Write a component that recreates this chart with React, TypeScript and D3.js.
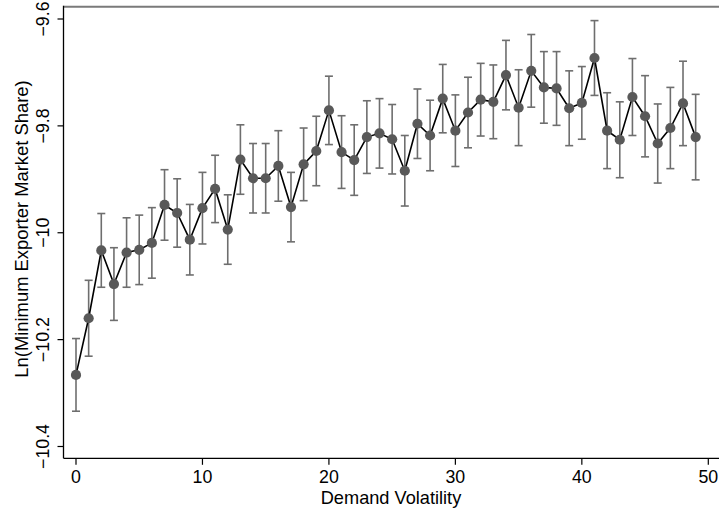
import React from "react";
import * as d3 from "d3";

const volatility: number[] = Array.from({ length: 50 }, (_, i) => i);
const meanValues: number[] = [
  -10.266, -10.16, -10.033, -10.096, -10.037, -10.032, -10.019, -9.948, -9.963, -10.013,
  -9.954, -9.918, -9.994, -9.863, -9.898, -9.898, -9.875, -9.952, -9.872, -9.847,
  -9.771, -9.849, -9.864, -9.821, -9.814, -9.825, -9.884, -9.796, -9.818, -9.749,
  -9.809, -9.775, -9.751, -9.755, -9.705, -9.766, -9.697, -9.728, -9.73, -9.767,
  -9.757, -9.673, -9.809, -9.826, -9.746, -9.782, -9.833, -9.804, -9.758, -9.821,
];
const ciHalf: number[] = [
  0.068, 0.071, 0.069, 0.068, 0.065, 0.065, 0.066, 0.066, 0.064, 0.066,
  0.067, 0.063, 0.065, 0.065, 0.065, 0.065, 0.066, 0.065, 0.068, 0.065,
  0.064, 0.068, 0.066, 0.068, 0.065, 0.065, 0.066, 0.065, 0.066, 0.064,
  0.067, 0.066, 0.068, 0.069, 0.065, 0.071, 0.068, 0.067, 0.069, 0.07,
  0.068, 0.07, 0.071, 0.071, 0.072, 0.076, 0.074, 0.076, 0.079, 0.08,
];
const xTicks: number[] = [0, 10, 20, 30, 40, 50];
const yTicks: number[] = [-9.6, -9.8, -10, -10.2, -10.4];
const xTitle = "Demand Volatility";
const yTitle = "Ln(Minimum Exporter Market Share)";

const W = 719;
const H = 510;
const FONT = "'Liberation Sans', Arial, Helvetica, sans-serif";

export default function App() {
  const x = d3.scaleLinear().domain([0, 50]).range([76, 708.3]);
  const y = d3.scaleLinear().domain([-10.4, -9.6]).range([446.5, 19]);
  const axisLeft = 63.5;
  const axisBottom = 458.3;
  const plotTop = 6.8;

  const data = volatility.map((v, i) => ({ v, m: meanValues[i], h: ciHalf[i] }));
  const line = d3
    .line<{ v: number; m: number }>()
    .x((d) => x(d.v))
    .y((d) => y(d.m));

  const fmtY = (t: number) => {
    const s = t === -10 ? "10" : Math.abs(t).toString();
    return "\u2212" + s;
  };

  return (
    <svg
      width={W}
      height={H}
      style={{ position: "absolute", left: 0, top: 0, background: "#fff" }}
      fontFamily={FONT}
    >
      <rect x={0} y={0} width={W} height={H} fill="#fff" />
      {/* top border */}
      <line x1={axisLeft} x2={W} y1={plotTop} y2={plotTop} stroke="#7a7a7a" strokeWidth={2} />
      {/* axes */}
      <line x1={axisLeft} x2={axisLeft} y1={plotTop - 1} y2={axisBottom} stroke="#000" strokeWidth={1.3} />
      <line x1={axisLeft} x2={W} y1={axisBottom} y2={axisBottom} stroke="#000" strokeWidth={1.3} />

      {/* y ticks */}
      {yTicks.map((t) => (
        <g key={"y" + t}>
          <line x1={axisLeft - 6} x2={axisLeft} y1={y(t)} y2={y(t)} stroke="#000" strokeWidth={1.2} />
          <text
            transform={`translate(49,${y(t)}) rotate(-90)`}
            textAnchor="middle"
            fontSize={17.8}
            fill="#000"
          >
            {fmtY(t)}
          </text>
        </g>
      ))}

      {/* x ticks */}
      {xTicks.map((t) => (
        <g key={"x" + t}>
          <line x1={x(t)} x2={x(t)} y1={axisBottom} y2={axisBottom + 6.5} stroke="#000" strokeWidth={1.2} />
          <text x={x(t)} y={483} textAnchor="middle" fontSize={17.8} fill="#000">
            {t}
          </text>
        </g>
      ))}

      {/* titles */}
      <text x={391} y={504} textAnchor="middle" fontSize={18.2} fill="#000">
        {xTitle}
      </text>
      <text
        transform={`translate(28,229) rotate(-90)`}
        textAnchor="middle"
        fontSize={18.4}
        fill="#000"
      >
        {yTitle}
      </text>

      {/* error bars */}
      {data.map((d) => {
        const cx = x(d.v);
        const y1 = y(d.m + d.h);
        const y2 = y(d.m - d.h);
        return (
          <g key={"e" + d.v} stroke="#6e6e6e" strokeWidth={1.6}>
            <line x1={cx} x2={cx} y1={y1} y2={y2} />
            <line x1={cx - 4} x2={cx + 4} y1={y1} y2={y1} />
            <line x1={cx - 4} x2={cx + 4} y1={y2} y2={y2} />
          </g>
        );
      })}

      {/* connecting line */}
      <path d={line(data) || ""} fill="none" stroke="#000" strokeWidth={1.6} />

      {/* points */}
      {data.map((d) => (
        <circle key={"p" + d.v} cx={x(d.v)} cy={y(d.m)} r={5.1} fill="#595959" />
      ))}
    </svg>
  );
}
